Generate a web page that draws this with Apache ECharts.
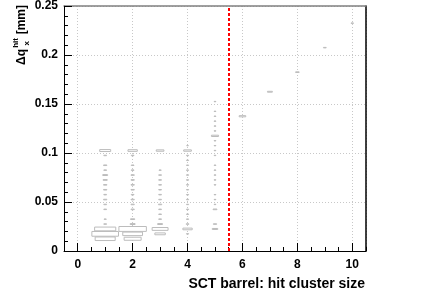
<!DOCTYPE html>
<html>
<head>
<meta charset="utf-8">
<script src="https://cdn.jsdelivr.net/npm/echarts@6/dist/echarts.min.js"></script>
<style>html,body{margin:0;padding:0;background:#fff}#c{width:431px;height:296px}</style>
</head>
<body>
<div id="c"></div>
<script>
// Δq_x^hit bin centres (mm) and relative box sizes, per SCT cluster size
const size1Dq = [0.1025, 0.0975, 0.0875, 0.0825, 0.0775, 0.0725, 0.0675, 0.0625, 0.0575, 0.0525, 0.0475, 0.0425, 0.0325, 0.0275, 0.0225, 0.0175, 0.0125];
const size1W  = [0.40,   0.10,   0.12,   0.10,   0.18,   0.15,   0.12,   0.12,   0.10,   0.12,   0.10,   0.10,   0.08,   0.10,   0.77,   0.97,   0.73];
const size2Dq = [0.1025, 0.0975, 0.0875, 0.0825, 0.0775, 0.0725, 0.0675, 0.0625, 0.0575, 0.0525, 0.0475, 0.0425, 0.0325, 0.0275, 0.0225, 0.0175, 0.0125];
const size2W  = [0.34,   0.10,   0.10,   0.10,   0.12,   0.12,   0.12,   0.12,   0.10,   0.12,   0.12,   0.12,   0.15,   0.18,   1.00,   0.72,   0.62];
const size3Dq = [0.1025, 0.0825, 0.0775, 0.0725, 0.0675, 0.0625, 0.0575, 0.0525, 0.0475, 0.0425, 0.0375, 0.0325, 0.0275, 0.0225, 0.0175];
const size3W  = [0.28,   0.08,   0.10,   0.10,   0.10,   0.10,   0.10,   0.10,   0.12,   0.10,   0.10,   0.10,   0.18,   0.58,   0.38];
const size4Dq = [0.1075, 0.1025, 0.0975, 0.0925, 0.0875, 0.0825, 0.0775, 0.0725, 0.0675, 0.0625, 0.0575, 0.0525, 0.0475, 0.0425, 0.0375, 0.0325, 0.0275, 0.0225, 0.0175];
const size4W  = [0.06,   0.28,   0.08,   0.08,   0.08,   0.08,   0.08,   0.08,   0.08,   0.08,   0.08,   0.08,   0.08,   0.08,   0.08,   0.08,   0.10,   0.34,   0.08];
const size5Dq = [0.1525, 0.1425, 0.1375, 0.1325, 0.1275, 0.1225, 0.1175, 0.1125, 0.1075, 0.1025, 0.0975, 0.0875, 0.0825, 0.0775, 0.0725, 0.0675, 0.0575, 0.0525, 0.0475, 0.0425, 0.0275, 0.0225];
const size5W  = [0.07,   0.07,   0.07,   0.07,   0.07,   0.07,   0.26,   0.07,   0.07,   0.07,   0.07,   0.07,   0.07,   0.07,   0.07,   0.07,   0.07,   0.07,   0.07,   0.14,   0.12,   0.20];
const size6Dq = [0.1375]; const size6W = [0.24];
const size7Dq = [0.1625]; const size7W = [0.18];
const size8Dq = [0.1825]; const size8W = [0.13];
const size9Dq = [0.2075]; const size9W = [0.10];
const size10Dq = [0.2325]; const size10W = [0.09];

const clusterSizes = [1, 2, 3, 4, 5, 6, 7, 8, 9, 10];
const dqLists = [size1Dq, size2Dq, size3Dq, size4Dq, size5Dq, size6Dq, size7Dq, size8Dq, size9Dq, size10Dq];
const wLists  = [size1W, size2W, size3W, size4W, size5W, size6W, size7W, size8W, size9W, size10W];
const cutValue = 5.5;
const xTitle = 'SCT barrel: hit cluster size';

const BIN_X = 1, BIN_Y = 0.005;
const boxData = [];
clusterSizes.forEach((cs, i) => {
  dqLists[i].forEach((dq, j) => boxData.push([cs, dq, wLists[i][j]]));
});

const FONT = '"Liberation Sans", Arial, Helvetica, sans-serif';
const chart = echarts.init(document.getElementById('c'), null, {renderer: 'canvas'});
chart.setOption({
  animation: false,
  backgroundColor: '#fff',
  grid: {left: 64, right: 65, top: 5, bottom: 45, containLabel: false},
  xAxis: [
    {
      type: 'value', min: -0.5, max: 10.5, splitNumber: 5, position: 'bottom',
      axisLine: {onZero: false, lineStyle: {color: '#000', width: 1}},
      axisTick: {inside: true, length: 8, lineStyle: {color: '#000'}},
      axisLabel: {showMinLabel: false, showMaxLabel: false, color: '#000', fontWeight: 'bold', fontSize: 12, fontFamily: FONT, margin: 8},
      splitLine: {show: true, lineStyle: {color: '#c8c8c8', type: [1, 2], width: 1}}
    },
    {
      type: 'value', min: -0.5, max: 10.5, interval: 0.5, position: 'bottom',
      axisLine: {show: false, onZero: false},
      axisTick: {inside: true, length: 4, lineStyle: {color: '#000'}},
      axisLabel: {show: false}, splitLine: {show: false}
    },
    {
      type: 'value', min: -0.5, max: 10.5, position: 'top',
      axisLine: {show: true, onZero: false, lineStyle: {color: '#808080', width: 1.5}},
      axisTick: {show: false}, axisLabel: {show: false}, splitLine: {show: false}
    }
  ],
  yAxis: [
    {
      type: 'value', min: 0, max: 0.25, interval: 0.05, position: 'left',
      axisLine: {show: true, onZero: false, lineStyle: {color: '#000', width: 1}},
      axisTick: {inside: true, length: 8, lineStyle: {color: '#000'}},
      minorTick: {show: true, splitNumber: 5, length: 4, lineStyle: {color: '#000'}},
      axisLabel: {color: '#000', fontWeight: 'bold', fontSize: 12, fontFamily: FONT, margin: 6},
      splitLine: {show: true, lineStyle: {color: '#c8c8c8', type: [1, 2], width: 1}}
    },
    {
      type: 'value', min: 0, max: 0.25, position: 'right',
      axisLine: {show: true, onZero: false, lineStyle: {color: '#000', width: 1.5}},
      axisTick: {show: false}, axisLabel: {show: false}, splitLine: {show: false}
    }
  ],
  series: [{
    type: 'custom',
    xAxisIndex: 0, yAxisIndex: 0,
    clip: true,
    data: boxData,
    renderItem: function (params, api) {
      const c = api.coord([api.value(0), api.value(1)]);
      const s = api.size([BIN_X, BIN_Y]);
      const w = api.value(2);
      const bw = s[0] * w, bh = s[1] * w;
      return {
        type: 'rect',
        shape: {x: c[0] - bw / 2, y: c[1] - bh / 2, width: bw, height: bh},
        style: {fill: '#fff', stroke: '#bcbcbc', lineWidth: 1}
      };
    },
    markLine: {
      silent: true, symbol: 'none', animation: false,
      label: {show: false},
      lineStyle: {color: '#ff0000', type: [3, 2], width: 2},
      data: [{xAxis: cutValue}]
    }
  }],
  graphic: [
    {
      type: 'text', x: 365, y: 284,
      style: {text: xTitle, textAlign: 'right', align: 'right', textVerticalAlign: 'middle', verticalAlign: 'middle',
              font: 'bold 14px ' + FONT, fill: '#000'}
    },
    {
      type: 'group', x: 22, y: 5, rotation: Math.PI / 2,
      children: [
        {type: 'text', style: {text: '[mm]', x: 0, y: 0, textAlign: 'right', align: 'right', textVerticalAlign: 'middle', verticalAlign: 'middle', font: 'bold 12px ' + FONT, fill: '#000'}},
        {type: 'text', style: {text: 'hit', x: -33, y: -6, textAlign: 'right', align: 'right', textVerticalAlign: 'middle', verticalAlign: 'middle', font: 'bold 8px ' + FONT, fill: '#000'}},
        {type: 'text', style: {text: 'x', x: -36, y: 5, textAlign: 'right', align: 'right', textVerticalAlign: 'middle', verticalAlign: 'middle', font: 'bold 8px ' + FONT, fill: '#000'}},
        {type: 'text', style: {text: 'Δq', x: -44, y: 0, textAlign: 'right', align: 'right', textVerticalAlign: 'middle', verticalAlign: 'middle', font: 'bold 12px ' + FONT, fill: '#000'}}
      ]
    }
  ]
});
</script>
</body>
</html>
